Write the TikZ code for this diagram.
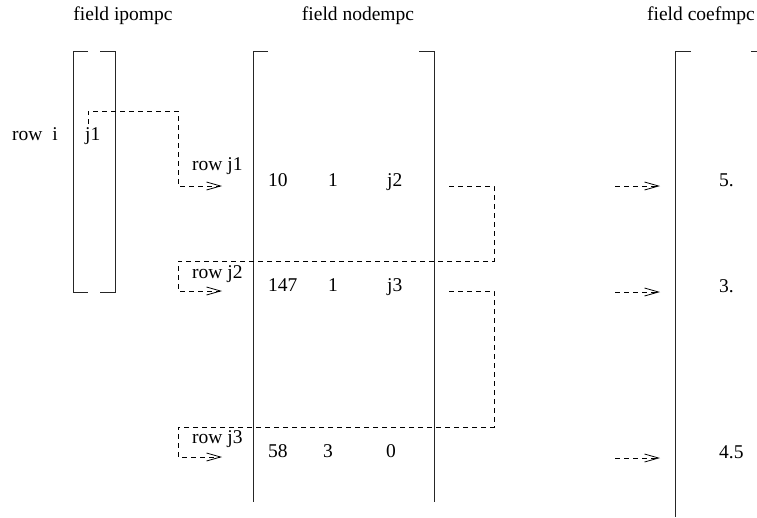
\documentclass[tikz,border=0pt]{standalone}
\usepackage{fontspec}
\setmainfont{Liberation Serif}
\usepackage{tikz}
\usetikzlibrary{arrows.meta, positioning, calc}
\tikzset{
	col/.style={draw=black!85, line width=0.9pt},
	lbl/.style={inner sep=0pt, font=\fontsize{19.5}{22}\selectfont},
	val/.style={lbl, anchor=base west},
	ptr/.style={-{Straight Barb[length=14pt, width=8pt]}, line width=0.8pt,
		dash pattern=on 5pt off 4pt}
}
\begin{document}
\begin{tikzpicture}[x=1pt, y=-1pt]
			\useasboundingbox (0,0) rectangle (757,517);
			
			%% titles
			\node[lbl] (tipo) at (123,16) {field ipompc};
			\node[lbl] (tnod) at (358,16) {field nodempc};
			\node[lbl] (tcoef) at (701,16) {field coefmpc};
			
			%% field ipompc
			\draw[col] (88,51) -- (73,51) -- (73,292) -- (88,292);
			\draw[col] (100,51) -- (115,51) -- (115,292) -- (100,292);
			\node[val] (rowi) at (12,140) {row\ \ i};
			\node[val] (pj1) at (85,140) {j1};
			
			%% field nodempc
			\draw[col] (268,51) -- (253,51) -- (253,502);
			\draw[col] (419,51) -- (434,51) -- (434,502);
			
			\node[val] (rowjA) at (192,170) {row j1};
			\node[val] (vA1) at (268,186) {10};
			\node[val] (vA2) at (328,186) {1};
			\node[val] (vA3) at (387,186) {j2};
			
			\node[val] (rowjB) at (192,278) {row j2};
			\node[val] (vB1) at (268,291) {147};
			\node[val] (vB2) at (328,291) {1};
			\node[val] (vB3) at (387,291) {j3};
			
			\node[val] (rowjC) at (192,443) {row j3};
			\node[val] (vC1) at (268,457) {58};
			\node[val] (vC2) at (323,457) {3};
			\node[val] (vC3) at (386,457) {0};
			
			%% field coefmpc
			\draw[col] (691,51) -- (675,51) -- (675,517);
			\draw[col] (751,51) -- (757,51);
			\node[val] (cA) at (719,186) {5.};
			\node[val] (cB) at (719,292) {3.};
			\node[val] (cC) at (719,458) {4.5};
			
			%% pointer ends
			\coordinate (srcA) at (88,124);
			\coordinate (hopA) at (178,111);
			\coordinate (inA) at (222,186);
			\coordinate (outA) at (449,186);
			\coordinate (hopB) at (494,261);
			\coordinate (backB) at (178,291);
			\coordinate (inB) at (222,291);
			\coordinate (outB) at (449,291);
			\coordinate (hopC) at (494,427);
			\coordinate (backC) at (178,457);
			\coordinate (inC) at (222,457);
			
			%% ipompc -> row j1
			\draw[ptr] (srcA) |- (hopA) |- (inA);
			%% row j1 -> row j2
			\draw[ptr] (outA) -| (hopB) -| (backB) -- (inB);
			%% row j2 -> row j3
			\draw[ptr] (outB) -| (hopC) -| (backC) -- (inC);
			
			%% rows -> coefmpc
			\coordinate (fromA) at (615,186);
			\coordinate (fromB) at (615,292);
			\coordinate (fromC) at (615,458);
			\draw[ptr] (fromA) -- (660,186);
			\draw[ptr] (fromB) -- (660,292);
			\draw[ptr] (fromC) -- (660,458);
			
		\end{tikzpicture}
\end{document}
